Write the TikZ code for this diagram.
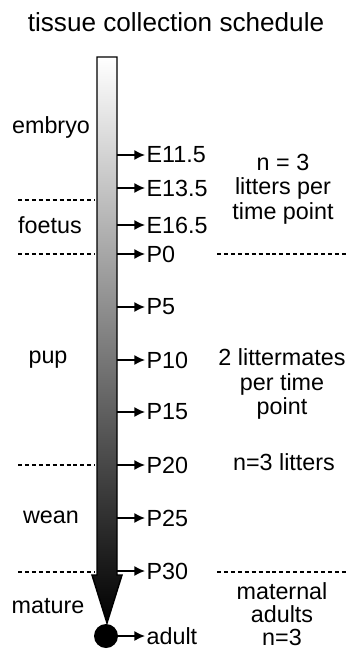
\documentclass[tikz,border=0pt]{standalone}
\usepackage{fontspec}
\setmainfont{Liberation Sans}
\usetikzlibrary{arrows.meta}
\tikzset{
  lbl/.style={font=\fontsize{17.5}{18.5}\selectfont, inner sep=1pt},
  tick/.style={line width=1.1pt, -{Latex[length=8pt,width=7.5pt]}},
  sep/.style={line width=1.1pt, dash pattern=on 3pt off 2.2pt}
}
\begin{document}
\begin{tikzpicture}[x=0.75pt,y=-0.75pt]
\useasboundingbox (0,0) rectangle (351,652);
\node[font=\fontsize{19.6}{22}\selectfont] (title) at (176,22){tissue collection schedule};
% time bar
\draw[line width=1.1pt, top color=white, bottom color=black] (97,57) -- (117,57) -- (117,575) -- (122,575) -- (107,623) -- (92,575) -- (97,575) -- cycle;
\node[circle, fill, minimum size=18pt, inner sep=0pt] (dot) at (106,636){};
% tick points on the bar
\coordinate (t0) at (117,155);
\coordinate (t1) at (117,188);
\coordinate (t2) at (117,225);
\coordinate (t3) at (117,254);
\coordinate (t4) at (117,307);
\coordinate (t5) at (117,360);
\coordinate (t6) at (117,412);
\coordinate (t7) at (117,465);
\coordinate (t8) at (117,518);
\coordinate (t9) at (117,571);
\node[lbl, anchor=west] (e115) at (145,155){E11.5};
\node[lbl, anchor=west] (e135) at (145,188){E13.5};
\node[lbl, anchor=west] (e165) at (145,225){E16.5};
\node[lbl, anchor=west] (p0) at (145,254){P0};
\node[lbl, anchor=west] (p5) at (145,307){P5};
\node[lbl, anchor=west] (p10) at (145,360){P10};
\node[lbl, anchor=west] (p15) at (145,412){P15};
\node[lbl, anchor=west] (p20) at (145,465){P20};
\node[lbl, anchor=west] (p25) at (145,518){P25};
\node[lbl, anchor=west] (p30) at (145,571){P30};
\node[lbl, anchor=west] (adult) at (145,636){adult};
\draw[tick](t0) -- (e115);
\draw[tick](t1) -- (e135);
\draw[tick](t2) -- (e165);
\draw[tick](t3) -- (p0);
\draw[tick](t4) -- (p5);
\draw[tick](t5) -- (p10);
\draw[tick](t6) -- (p15);
\draw[tick](t7) -- (p20);
\draw[tick](t8) -- (p25);
\draw[tick](t9) -- (p30);
\draw[tick](dot) -- (adult);
% stages
\node[lbl] (embryo) at (51,127){embryo};
\node[lbl] (foetus) at (50,225){foetus};
\node[lbl] (pup) at (48,360){pup};
\node[lbl] (wean) at (51,517){wean};
\node[lbl] (mature) at (48,606){mature};
\draw[sep] (18,200) -- (95,200);
\draw[sep] (18,254) -- (95,254);
\draw[sep] (18,465) -- (95,465);
\draw[sep] (18,572) -- (95,572);
\draw[sep] (217,254) -- (348,254);
\draw[sep] (217,572) -- (348,572);
% sampling notes
\node[lbl, align=center] (note1) at (283,189){n = 3\\litters per\\time point};
\node[lbl, align=center] (note2) at (282,384){2 littermates\\per time\\point};
\node[lbl] (note3) at (284,462){n=3 litters};
\node[lbl, align=center, font=\fontsize{17.5}{17}\selectfont] (note4) at (282,614){maternal\\adults\\n=3};
\end{tikzpicture}
\end{document}
